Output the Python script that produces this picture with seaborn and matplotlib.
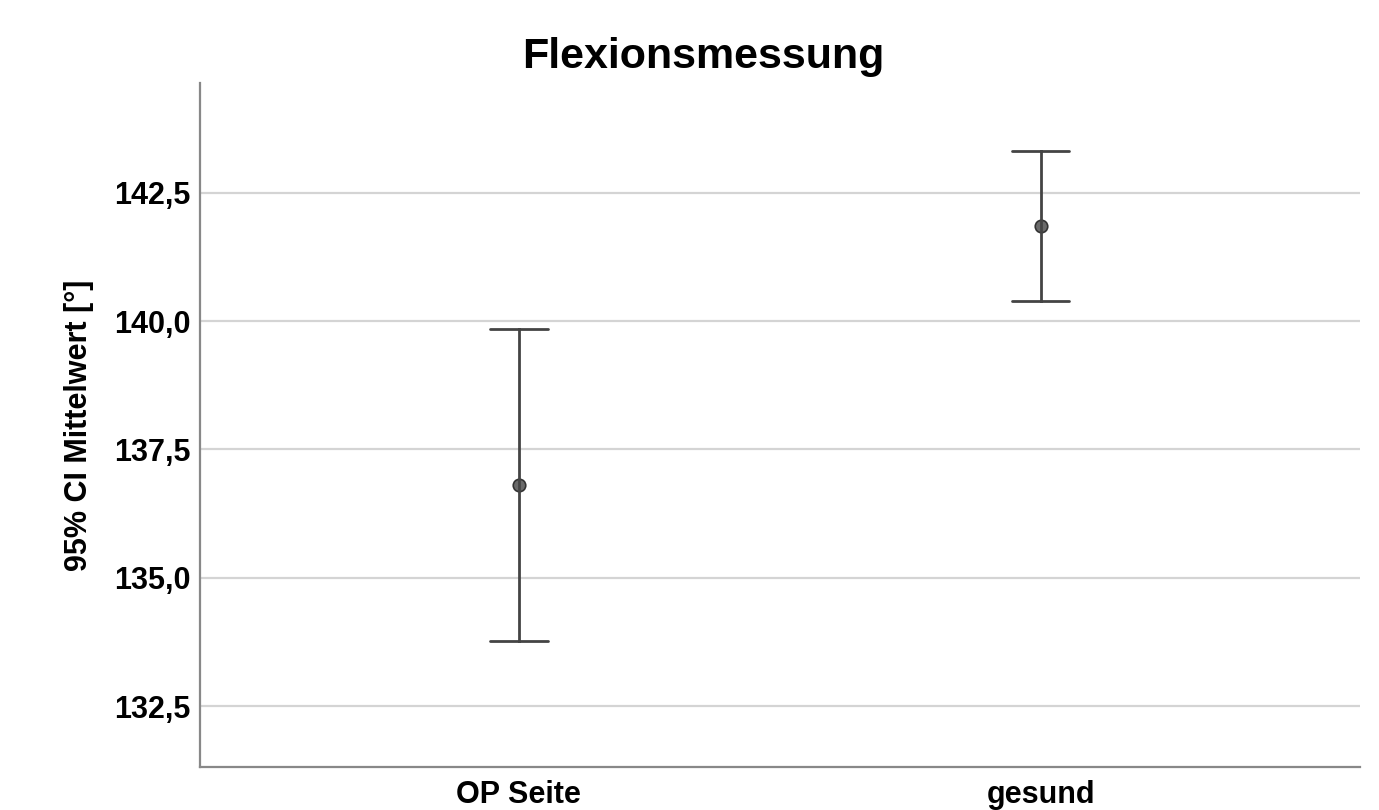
import matplotlib
matplotlib.use("Agg")
import matplotlib.pyplot as plt
import seaborn as sns
import pandas as pd

categories = ["OP Seite", "gesund"]
means = [136.80, 141.85]
ci_lower = [133.76, 140.39]
ci_upper = [139.84, 143.31]
yticks = [132.5, 135.0, 137.5, 140.0, 142.5]
ytick_labels = ["132,5", "135,0", "137,5", "140,0", "142,5"]

sns.set_theme(style="white")
plt.rcParams["font.family"] = ["Liberation Sans", "DejaVu Sans"]
plt.rcParams["text.color"] = "black"
plt.rcParams["xtick.color"] = "black"
plt.rcParams["ytick.color"] = "black"
plt.rcParams["axes.labelcolor"] = "black"

rows = []
for c, lo, m, hi in zip(categories, ci_lower, means, ci_upper):
    for v in (lo, m, hi):
        rows.append({"Gruppe": c, "Wert": v})
df = pd.DataFrame(rows)

fig = plt.figure(figsize=(13.79, 8.10), dpi=100)
ax = fig.add_axes([0.145, 0.053, 0.841, 0.8445])

for yt in yticks:
    ax.axhline(yt, color="#d4d4d4", lw=1.6, zorder=0)

sns.pointplot(data=df, x="Gruppe", y="Wert", order=categories,
              estimator="median", errorbar=("pi", 100),
              linestyle="none", color="#444444", capsize=0.11,
              err_kws={"linewidth": 2.0, "color": "#444444"},
              markers="o", markersize=9, ax=ax, zorder=3)
for coll in ax.collections:
    coll.set_facecolor("#6a6a6a")
    coll.set_edgecolor("#333333")
for ln in ax.lines:
    if ln.get_marker() not in (None, "None", ""):
        ln.set_markerfacecolor("#6a6a6a")
        ln.set_markeredgecolor("#333333")
        ln.set_markersize(9)
        ln.set_markeredgewidth(1.2)

ax.set_xlim(-0.611, 1.611)
ax.set_ylim(131.31, 144.64)
ax.set_yticks(yticks)
ax.set_yticklabels(ytick_labels, fontsize=22, fontweight="bold")
ax.set_xticks(range(len(categories)))
ax.set_xticklabels(categories, fontsize=22, fontweight="bold")
ax.tick_params(axis="both", length=0, pad=7)
ax.tick_params(axis="x", pad=9)
ax.set_xlabel("")
ax.set_ylabel("95% CI Mittelwert [°]", fontsize=22, fontweight="bold", labelpad=14)
fig.text(0.51, 0.93, "Flexionsmessung", fontsize=31, fontweight="bold",
         ha="center", va="center", color="black")

for s in ["top", "right"]:
    ax.spines[s].set_visible(False)
for s in ["left", "bottom"]:
    ax.spines[s].set_color("#888888")
    ax.spines[s].set_linewidth(1.6)

fig.savefig("out.png", dpi=100, facecolor="white")
